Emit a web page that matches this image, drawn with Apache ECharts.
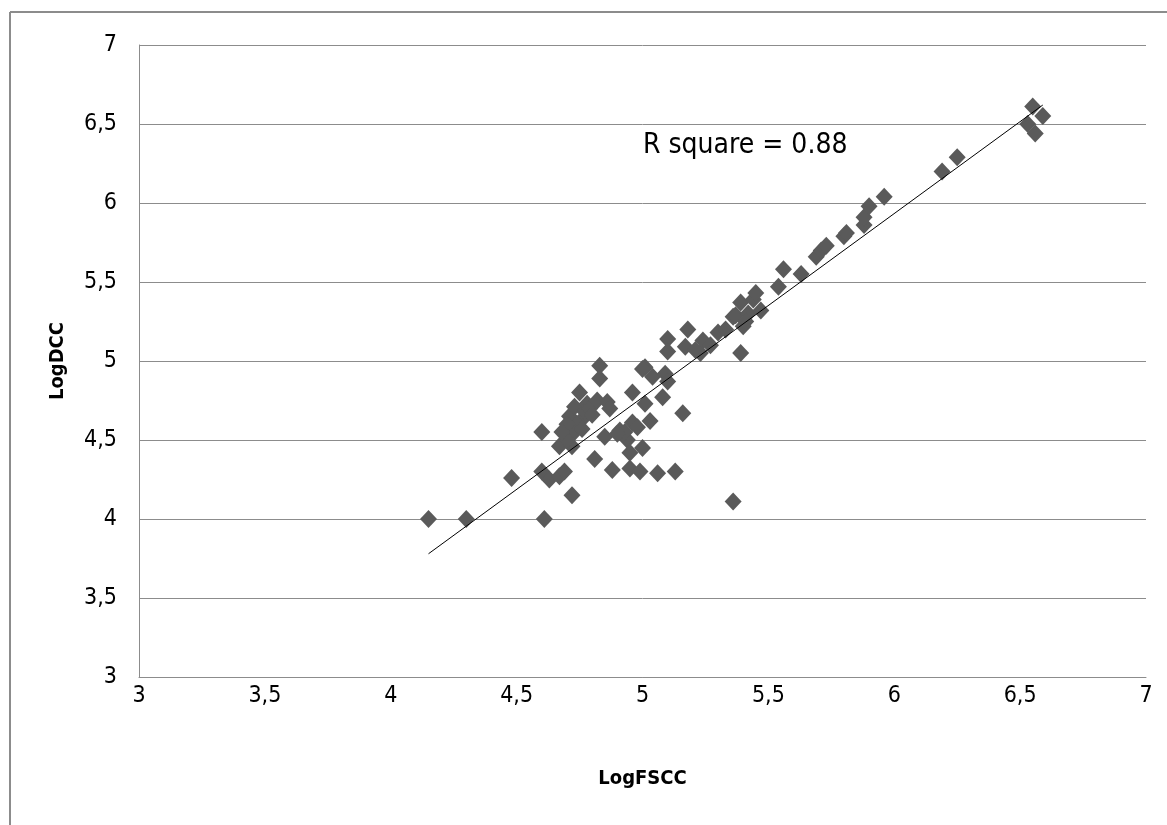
<!DOCTYPE html>
<html>
<head>
<meta charset="utf-8">
<script src="https://cdn.jsdelivr.net/npm/echarts@6/dist/echarts.min.js"></script>
<style>
  html, body { margin: 0; padding: 0; background: #fff; }
  #chart { width: 1167px; height: 825px; }
</style>
</head>
<body>
<div id="chart"></div>
<script>
// LogFSCC (x) and LogDCC (y)
var logFSCC = [
  4.15, 4.30, 4.61, 4.48, 4.60, 4.63, 4.67, 4.69, 4.72, 4.60,
  4.67, 4.72, 4.73, 4.70, 4.81, 4.88, 4.95, 4.99, 5.06, 5.13,
  5.36, 4.71, 4.73, 4.78, 4.76, 4.75, 4.77, 4.79, 4.82, 4.74,
  4.76, 4.80, 4.83, 4.83, 4.86, 4.85, 4.87, 4.91, 4.94, 4.95,
  4.96, 4.96, 4.93, 5.00, 5.01, 5.01, 5.03, 5.04, 5.08, 5.09,
  5.10, 5.16, 5.10, 5.10, 5.18, 5.17, 5.23, 5.24, 5.27, 5.30,
  5.33, 5.36, 5.37, 5.39, 5.40, 5.39, 5.42, 5.44, 5.45, 5.47,
  5.41, 5.54, 5.56, 5.63, 5.69, 5.71, 5.73, 5.80, 5.81, 5.88,
  5.88, 5.90, 5.96, 6.19, 6.25, 6.53, 6.55, 6.56, 6.59, 4.70,
  4.68, 4.90, 4.98, 5.00, 5.21
];
var logDCC = [
  4.00, 4.00, 4.00, 4.26, 4.30, 4.25, 4.27, 4.30, 4.15, 4.55,
  4.46, 4.46, 4.55, 4.50, 4.38, 4.31, 4.32, 4.30, 4.29, 4.30,
  4.11, 4.65, 4.71, 4.73, 4.63, 4.80, 4.68, 4.70, 4.75, 4.60,
  4.57, 4.66, 4.97, 4.89, 4.74, 4.52, 4.70, 4.56, 4.50, 4.42,
  4.61, 4.80, 4.55, 4.45, 4.73, 4.96, 4.62, 4.90, 4.77, 4.92,
  4.87, 4.67, 5.14, 5.06, 5.20, 5.09, 5.05, 5.13, 5.10, 5.18,
  5.20, 5.28, 5.29, 5.37, 5.22, 5.05, 5.30, 5.39, 5.43, 5.32,
  5.25, 5.47, 5.58, 5.55, 5.66, 5.70, 5.73, 5.79, 5.81, 5.86,
  5.91, 5.98, 6.04, 6.20, 6.29, 6.50, 6.61, 6.44, 6.55, 4.60,
  4.55, 4.54, 4.58, 4.95, 5.07
];
// ends of the fitted line as drawn
var trendX = [4.15, 6.59];
var trendY = [3.78, 6.62];
var xTicks = [3, 3.5, 4, 4.5, 5, 5.5, 6, 6.5, 7];
var yTicks = [3, 3.5, 4, 4.5, 5, 5.5, 6, 6.5, 7];
var rSquareText = "R square = 0.88";

var font = "'DejaVu Sans Condensed', 'Liberation Sans Narrow', sans-serif";
var points = logFSCC.map(function (x, i) { return [x, logDCC[i]]; });
var trend = trendX.map(function (x, i) { return [x, trendY[i]]; });
var comma = function (v) { return String(v).replace(".", ","); };

var chart = echarts.init(document.getElementById("chart"));
chart.setOption({
  animation: false,
  backgroundColor: "#fff",
  grid: { left: 139, top: 45, right: 21, bottom: 148 },
  xAxis: {
    type: "value",
    min: xTicks[0],
    max: xTicks[xTicks.length - 1],
    interval: 0.5,
    name: "LogFSCC",
    nameLocation: "middle",
    nameGap: 92,
    nameTextStyle: { fontFamily: font, fontWeight: "bold", fontSize: 20, color: "#000" },
    axisLine: { lineStyle: { color: "#8c8c8c", width: 1 } },
    axisTick: { show: false },
    splitLine: { show: false },
    axisLabel: { formatter: comma, fontFamily: font, fontSize: 23, color: "#000", margin: 8 }
  },
  yAxis: {
    type: "value",
    min: yTicks[0],
    max: yTicks[yTicks.length - 1],
    interval: 0.5,
    name: "LogDCC",
    nameLocation: "middle",
    nameGap: 71,
    nameTextStyle: { fontFamily: font, fontWeight: "bold", fontSize: 20, color: "#000" },
    axisLine: { show: true, lineStyle: { color: "#8c8c8c", width: 1 } },
    axisTick: { show: false },
    splitLine: { lineStyle: { color: "#8c8c8c", width: 1 } },
    axisLabel: { formatter: comma, fontFamily: font, fontSize: 23, color: "#000", margin: 22 }
  },
  series: [
    {
      type: "scatter",
      symbol: "diamond",
      symbolSize: [17, 18],
      itemStyle: { color: "#5a5a5a", opacity: 1 },
      data: points,
      z: 2
    },
    {
      type: "line",
      symbol: "none",
      lineStyle: { color: "#000", width: 1 },
      data: trend,
      z: 3
    }
  ],
  graphic: [
    {
      type: "line",
      shape: { x1: 10, y1: 12, x2: 1167, y2: 12 },
      style: { stroke: "#8c8c8c", lineWidth: 2 }
    },
    {
      type: "line",
      shape: { x1: 10, y1: 12, x2: 10, y2: 825 },
      style: { stroke: "#8c8c8c", lineWidth: 2 }
    },
    {
      type: "text",
      left: 643,
      top: 132,
      style: { text: rSquareText, fontFamily: font, fontSize: 28, fill: "#000" }
    }
  ]
});
</script>
</body>
</html>
